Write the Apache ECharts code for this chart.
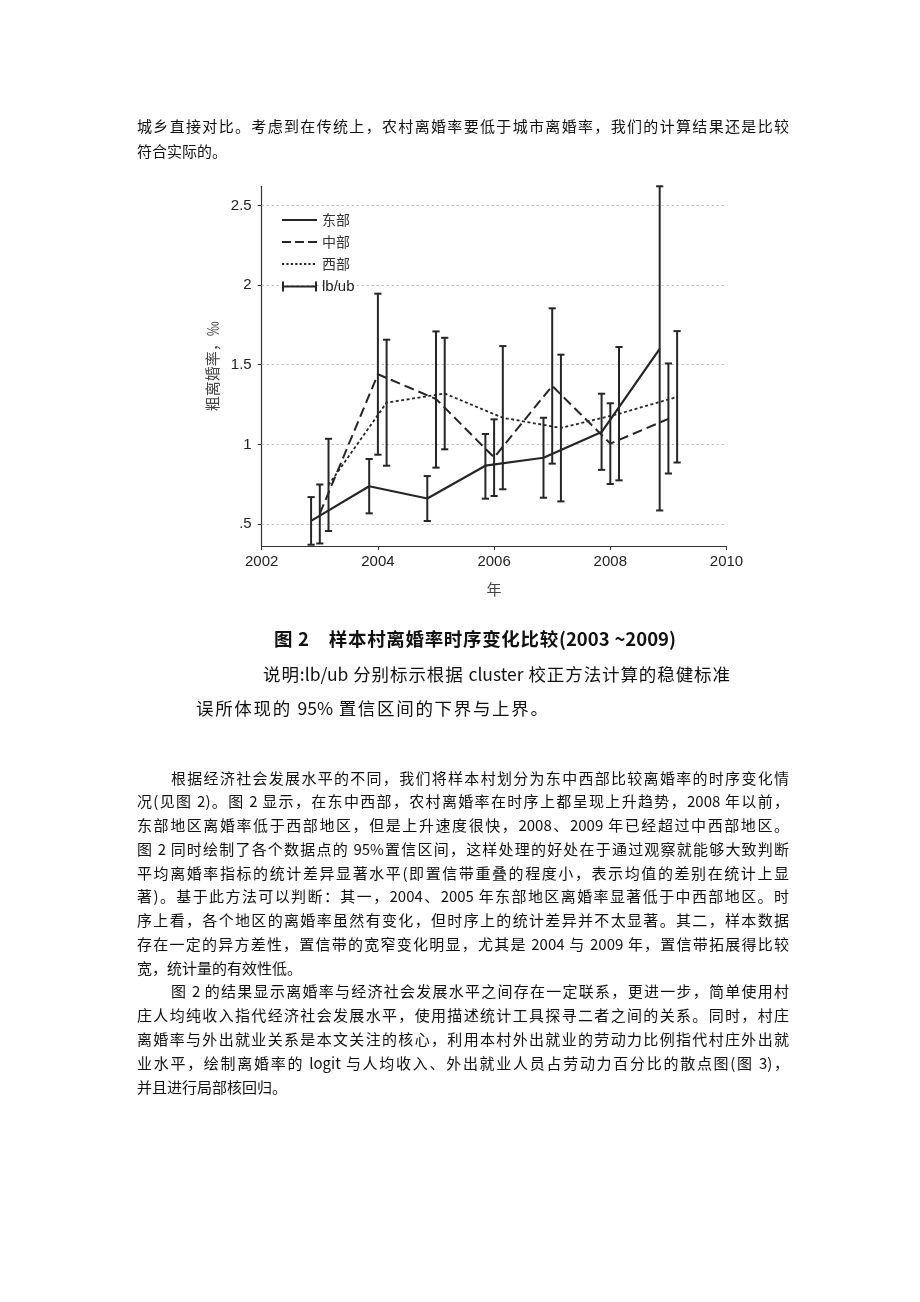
<!DOCTYPE html>
<html><head><meta charset="utf-8">
<script src="https://cdn.jsdelivr.net/npm/echarts@6/dist/echarts.min.js"></script>
<style>
html,body{margin:0;padding:0;background:#fff;}
#page{position:relative;width:920px;height:1302px;overflow:hidden;background:#fff;}
#chart{position:absolute;left:0;top:0;width:920px;height:1302px;}
.ln{position:absolute;white-space:nowrap;font-family:"Noto Sans CJK SC",sans-serif;color:#111;}
.j{text-align:justify;text-align-last:justify;white-space:normal;overflow:visible;}
</style></head><body><div id="page"><div id="chart"></div></div>
<script>
// ---- chart data ----
const years = [2003, 2004, 2005, 2006, 2007, 2008, 2009];
const eastMean = [0.52, 0.737, 0.66, 0.866, 0.916, 1.077, 1.60];
const eastLow  = [0.37, 0.567, 0.519, 0.659, 0.665, 0.840, 0.585];
const eastHigh = [0.669, 0.908, 0.801, 1.065, 1.167, 1.318, 2.62];
const midMean  = [0.565, 1.440, 1.285, 0.918, 1.367, 1.005, 1.160];
const midLow   = [0.378, 0.935, 0.854, 0.676, 0.879, 0.751, 0.817];
const midHigh  = [0.748, 1.946, 1.709, 1.157, 1.854, 1.258, 1.508];
const westMean = [0.745, 1.262, 1.319, 1.167, 1.103, 1.192, 1.298];
const westLow  = [0.456, 0.866, 0.969, 0.718, 0.642, 0.774, 0.886];
const westHigh = [1.035, 1.657, 1.669, 1.617, 1.563, 1.611, 1.711];
const seriesNames = ['东部', '中部', '西部', 'lb/ub'];
const yTickValues = [0.5, 1, 1.5, 2, 2.5];
const yTickLabels = ['.5', '1', '1.5', '2', '2.5'];
const xMin = 2002, xMax = 2010, xStep = 2;
const yMin = 0.362, yMax = 2.62;
const xName = '年';
const yName = '粗离婚率，‰';

// ---- page text ----
const topLines = [
  '城乡直接对比。考虑到在传统上，农村离婚率要低于城市离婚率，我们的计算结果还是比较',
  '符合实际的。'
];
const caption1 = '图 2　样本村离婚率时序变化比较(2003 ~2009)';
const caption2 = '说明:lb/ub 分别标示根据 cluster 校正方法计算的稳健标准';
const caption3 = '误所体现的 95% 置信区间的下界与上界。';
const bodyLines = [
  [1, '根据经济社会发展水平的不同，我们将样本村划分为东中西部比较离婚率的时序变化情'],
  [0, '况(见图 2)。图 2 显示，在东中西部，农村离婚率在时序上都呈现上升趋势，2008 年以前，'],
  [0, '东部地区离婚率低于西部地区，但是上升速度很快，2008、2009 年已经超过中西部地区。'],
  [0, '图 2 同时绘制了各个数据点的 95%置信区间，这样处理的好处在于通过观察就能够大致判断'],
  [0, '平均离婚率指标的统计差异显著水平(即置信带重叠的程度小，表示均值的差别在统计上显'],
  [0, '著)。基于此方法可以判断：其一，2004、2005 年东部地区离婚率显著低于中西部地区。时'],
  [0, '序上看，各个地区的离婚率虽然有变化，但时序上的统计差异并不太显著。其二，样本数据'],
  [0, '存在一定的异方差性，置信带的宽窄变化明显，尤其是 2004 与 2009 年，置信带拓展得比较'],
  [2, '宽，统计量的有效性低。'],
  [1, '图 2 的结果显示离婚率与经济社会发展水平之间存在一定联系，更进一步，简单使用村'],
  [0, '庄人均纯收入指代经济社会发展水平，使用描述统计工具探寻二者之间的关系。同时，村庄'],
  [0, '离婚率与外出就业关系是本文关注的核心，利用本村外出就业的劳动力比例指代村庄外出就'],
  [0, '业水平，绘制离婚率的 logit 与人均收入、外出就业人员占劳动力百分比的散点图(图 3)，'],
  [2, '并且进行局部核回归。']
];

const page = document.getElementById('page');
function addLine(text, x, yc, w, fs, justify, bold, lh) {
  const d = document.createElement('div');
  d.className = 'ln' + (justify ? ' j' : '');
  d.textContent = text;
  lh = lh || Math.round(fs * 1.4);
  d.style.left = x + 'px';
  d.style.top = (yc - lh / 2) + 'px';
  d.style.fontSize = fs + 'px';
  d.style.lineHeight = lh + 'px';
  d.style.height = lh + 'px';
  if (w) d.style.width = w + 'px';
  if (bold) d.style.fontWeight = 'bold';
  page.appendChild(d);
}
const LX = 137, LW = 652, FS = 15;
addLine(topLines[0], LX, 125, LW, FS, true);
addLine(topLines[1], LX, 150, 0, FS, false);
addLine(caption1, 274, 638, 402, 18.5, true, true);
addLine(caption2, 263, 673, 467, 17.5, true);
addLine(caption3, 196, 707, 352, 17.5, true);
bodyLines.forEach((l, i) => {
  const yc = 777 + i * 23.77;
  const ind = l[0] === 1 ? 34 : 0;
  if (l[0] === 2) addLine(l[1], LX, yc, 0, FS, false);
  else addLine(l[1], LX + ind, yc, LW - ind, FS, true);
});

// ---- chart ----
const chart = echarts.init(document.getElementById('chart'), null, {renderer: 'canvas'});
const INK = '#262626';
const barData = [];
[[eastLow, eastHigh, -0.15], [midLow, midHigh, 0], [westLow, westHigh, 0.15]].forEach(g => {
  years.forEach((y, i) => barData.push([y + g[2], g[0][i], g[1][i]]));
});
const mk = (arr, off) => years.map((y, i) => [y + off, arr[i]]);
const BOX = 'M0,0H0.01V0.01H0Z M34.99,9.99H35V10H34.99Z ';
const iconSolid = 'path://' + BOX + 'M0,3.9H35V6.1H0Z';
const iconDash = 'path://' + BOX + 'M0,4H9V6H0Z M13,4H22V6H13Z M26,4H35V6H26Z';
let dots = '';
for (let x = 0; x < 35; x += 4.4) dots += 'M' + x.toFixed(1) + ',4.1H' + (x + 2.2).toFixed(1) + 'V5.9H' + x.toFixed(1) + 'Z ';
const iconDot = 'path://' + BOX + dots;
const iconBar = 'path://M0,0H2V10H0Z M0,4.1H35V5.9H0Z M33,0H35V10H33Z';

chart.setOption({
  animation: false,
  backgroundColor: 'transparent',
  grid: {left: 261.7, right: 193.5, top: 186.3, bottom: 756, containLabel: false},
  legend: {
    orient: 'vertical', left: 277, top: 208, itemWidth: 35, itemHeight: 10, itemGap: 8,
    selectedMode: false,
    textStyle: {fontFamily: 'Noto Sans CJK SC', fontSize: 14, color: '#333'},
    data: [
      {name: seriesNames[0], icon: iconSolid},
      {name: seriesNames[1], icon: iconDash},
      {name: seriesNames[2], icon: iconDot},
      {name: seriesNames[3], icon: iconBar,
       textStyle: {fontFamily: 'Liberation Sans', fontSize: 15, color: '#222'}}]
  },
  xAxis: {
    type: 'value', min: xMin, max: xMax, interval: xStep,
    name: xName, nameLocation: 'middle', nameGap: 36,
    nameTextStyle: {fontFamily: 'Noto Sans CJK SC', fontSize: 15, color: '#444'},
    axisLine: {show: true, lineStyle: {color: '#333', width: 1.2}},
    axisTick: {show: true, length: 4, lineStyle: {color: '#333'}},
    axisLabel: {fontFamily: 'Liberation Sans', fontSize: 15, color: '#222', margin: 8,
      formatter: v => String(v)},
    splitLine: {show: false}
  },
  yAxis: {
    type: 'value', min: yMin, max: yMax,
    name: yName, nameLocation: 'middle', nameGap: 42, nameRotate: 90,
    nameTextStyle: {fontFamily: 'Noto Sans CJK SC', fontSize: 15, color: '#444'},
    axisLine: {show: true, lineStyle: {color: '#333', width: 1.2}},
    axisTick: {show: true, length: 4, customValues: yTickValues, lineStyle: {color: '#333'}},
    axisLabel: {
      customValues: yTickValues, fontFamily: 'Liberation Sans', fontSize: 15, color: '#222', margin: 10,
      formatter: v => { const k = yTickValues.findIndex(t => Math.abs(t - v) < 1e-6); return k >= 0 ? yTickLabels[k] : ''; }
    },
    splitLine: {show: false}
  },
  series: [
    {
      name: seriesNames[0], type: 'line', data: mk(eastMean, -0.15), symbol: 'none', z: 3,
      itemStyle: {color: INK}, lineStyle: {color: INK, width: 2.2, type: 'solid'},
      markLine: {
        silent: true, symbol: ['none', 'none'], label: {show: false}, animation: false, z: 1,
        lineStyle: {color: '#b5b5b5', width: 1, type: [2, 3]},
        emphasis: {disabled: true},
        data: yTickValues.map(v => [{coord: [xMin, v]}, {coord: [xMax, v]}])
      }
    },
    {
      name: seriesNames[1], type: 'line', data: mk(midMean, 0), symbol: 'none', z: 3,
      itemStyle: {color: INK}, lineStyle: {color: INK, width: 2, type: [10, 5]}
    },
    {
      name: seriesNames[2], type: 'line', data: mk(westMean, 0.15), symbol: 'none', z: 3,
      itemStyle: {color: INK}, lineStyle: {color: INK, width: 1.8, type: [3, 2.5]}
    },
    {
      name: seriesNames[3], type: 'custom', data: barData, z: 2, clip: false,
      itemStyle: {color: INK},
      encode: {x: 0, y: [1, 2]},
      renderItem: function (params, api) {
        const x = api.value(0), lo = api.value(1), hi = api.value(2);
        const p1 = api.coord([x, lo]), p2 = api.coord([x, hi]);
        const w = 3.6, st = {stroke: INK, lineWidth: 2};
        return {type: 'group', children: [
          {type: 'line', shape: {x1: p1[0], y1: p1[1], x2: p2[0], y2: p2[1]}, style: st},
          {type: 'line', shape: {x1: p1[0] - w, y1: p1[1], x2: p1[0] + w, y2: p1[1]}, style: st},
          {type: 'line', shape: {x1: p2[0] - w, y1: p2[1], x2: p2[0] + w, y2: p2[1]}, style: st}
        ]};
      }
    }
  ]
});
</script>
</body></html>
